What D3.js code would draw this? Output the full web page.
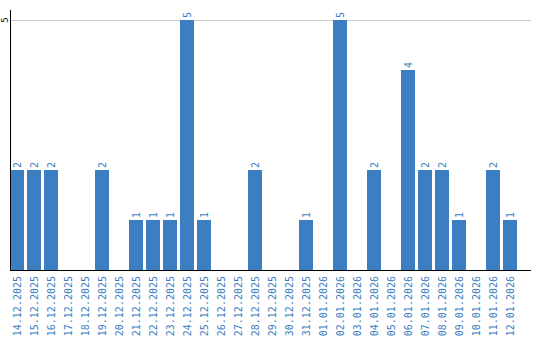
<!DOCTYPE html>
<html>
<head>
<meta charset="utf-8">
<script src="https://cdn.jsdelivr.net/npm/d3@7"></script>
<style>
  body { margin: 0; background: #fff; }
  text { font-family: "DejaVu Sans Mono", monospace; }
</style>
</head>
<body>
<script>
// dates and counts
var dates = ["14.12.2025", "15.12.2025", "16.12.2025", "17.12.2025", "18.12.2025",
	"19.12.2025", "20.12.2025", "21.12.2025", "22.12.2025", "23.12.2025",
	"24.12.2025", "25.12.2025", "26.12.2025", "27.12.2025", "28.12.2025",
	"29.12.2025", "30.12.2025", "31.12.2025", "01.01.2026", "02.01.2026",
	"03.01.2026", "04.01.2026", "05.01.2026", "06.01.2026", "07.01.2026",
	"08.01.2026", "09.01.2026", "10.01.2026", "11.01.2026", "12.01.2026"];
var counts = [2, 2, 2, 0, 0, 2, 0, 1, 1, 1, 5, 1, 0, 0, 2, 0, 0, 1, 0, 5, 0, 2, 0, 4, 2, 2, 1, 0, 2, 1];
var yTicks = [5];

window.onload = setChart();

function setChart(){
	var width = 540,
		height = 340;
	var left = 10, right = 531, top = 10, bottom = 270;
	var blue = "#3b7ec2";

	var svg = d3.select("body")
		.append("svg")
		.attr("width", width)
		.attr("height", height);

	//band scale: 14px bars on a 17px step
	var x = d3.scaleBand()
		.domain(dates)
		.range([left, left + 17 * dates.length - 3])
		.paddingInner(3 / 17)
		.paddingOuter(0);

	var y = d3.scaleLinear()
		.domain([0, 5])
		.range([bottom, 20]);

	// rows joined so each bar keeps its date
	var rows = dates.map(function(d, i){ return {date: d, value: counts[i]}; });

	//gridlines
	svg.selectAll(".grid")
		.data(yTicks)
		.enter()
		.append("line")
		.attr("x1", left)
		.attr("x2", right)
		.attr("y1", function(d){ return y(d) + 0.5; })
		.attr("y2", function(d){ return y(d) + 0.5; })
		.attr("stroke", "#cccccc")
		.attr("stroke-width", 1);

	//bars
	svg.selectAll(".bar")
		.data(rows)
		.enter()
		.append("rect")
		.attr("x", function(d){ return x(d.date); })
		.attr("y", function(d){ return y(d.value); })
		.attr("width", x.bandwidth())
		.attr("height", function(d){ return bottom - y(d.value); })
		.attr("fill", blue);

	//value labels
	svg.selectAll(".val")
		.data(rows.filter(function(d){ return d.value > 0; }))
		.enter()
		.append("text")
		.attr("transform", function(d){
			var cx = x(d.date) + x.bandwidth() / 2;
			return "translate(" + cx + "," + (y(d.value) - 2) + ") rotate(-90)";
		})
		.attr("dy", "0.35em")
		.attr("font-size", 10)
		.attr("fill", blue)
		.text(function(d){ return d.value; });

	//x axis
	var xAxis = d3.axisBottom(x).tickSize(0).tickPadding(0);
	var gx = svg.append("g")
		.attr("transform", "translate(0," + bottom + ")")
		.call(xAxis);
	gx.select(".domain").remove();
	gx.selectAll("text")
		.attr("font-size", 10)
		.attr("fill", blue)
		.attr("text-anchor", "end")
		.attr("transform", "rotate(-90)")
		.attr("x", -6)
		.attr("y", 0)
		.attr("dy", "0.35em");

	svg.append("line")
		.attr("x1", left)
		.attr("x2", right)
		.attr("y1", bottom + 0.5)
		.attr("y2", bottom + 0.5)
		.attr("stroke", "#000");

	//y axis
	svg.append("line")
		.attr("x1", left + 0.5)
		.attr("x2", left + 0.5)
		.attr("y1", top)
		.attr("y2", bottom)
		.attr("stroke", "#000");

	svg.selectAll(".ytick")
		.data(yTicks)
		.enter()
		.append("text")
		.attr("transform", function(d){ return "translate(5," + y(d) + ") rotate(-90)"; })
		.attr("text-anchor", "middle")
		.attr("dy", "0.35em")
		.attr("font-size", 9)
		.attr("fill", "#000")
		.text(function(d){ return d; });
}
</script>
</body>
</html>
